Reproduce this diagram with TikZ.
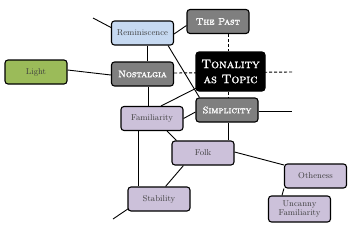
\documentclass[tikz,border=0pt]{standalone}
\usetikzlibrary{calc,backgrounds}
\definecolor{boxgray}{HTML}{7F7F7F}
\definecolor{boxpurple}{HTML}{CCC1DA}
\definecolor{boxblue}{HTML}{C6D9F1}
\definecolor{boxgreen}{HTML}{9BBB59}
\definecolor{txtdark}{HTML}{3F3F3F}
\newcommand{\heavytext}[1]{\special{pdf:literal direct 2 Tr 0.18 w}#1\special{pdf:literal direct 0 Tr}}
\tikzset{
  box/.style={draw=black, line width=1.1pt, rounded corners=3pt, minimum width=62pt, minimum height=24pt, inner sep=1pt, align=center, text=txtdark, font=\fontsize{8.5}{9.5}\selectfont},
  graybox/.style={box, fill=boxgray, text=white, font=\fontsize{9.5}{11}\selectfont\scshape},
  purplebox/.style={box, fill=boxpurple},
  bluebox/.style={box, fill=boxblue},
  greenbox/.style={box, fill=boxgreen},
  blackbox/.style={box, fill=black, text=white, minimum width=69pt, minimum height=39pt, font=\fontsize{12.5}{15}\selectfont\scshape},
  conn/.style={line width=0.9pt, draw=black},
  dconn/.style={conn, dash pattern=on 3pt off 2pt}
}
\begin{document}
\begin{tikzpicture}[x=1pt,y=-1pt]
\useasboundingbox (0,0) rectangle (350,225);
% nodes
\node[bluebox] (rem) at (142.5,33) {Reminiscence};
\node[graybox] (past) at (218,21.5) {\heavytext{The Past}};
\node[greenbox] (light) at (36,72) {Light};
\node[graybox] (nost) at (142.5,74) {\heavytext{Nostalgia}};
\node[blackbox] (ton) at (230.5,71.5) {\heavytext{Tonality}\\\heavytext{as Topic}};
\node[graybox] (simp) at (227,110) {\heavytext{Simplicity}};
\node[purplebox] (fam) at (152,118.5) {Familiarity};
\node[purplebox] (folk) at (203,153) {Folk};
\node[purplebox] (oth) at (315.5,176) {Otheness};
\node[purplebox, minimum height=26pt] (unc) at (299.5,209) {Uncanny\\[-1pt]Familiarity};
\node[purplebox] (stab) at (159,199) {Stability};
\coordinate (freeA) at (93,18);
\coordinate (freeB) at (292,72);
\coordinate (freeC) at (292,111);
\coordinate (freeD) at (113,219);
% connectors (behind nodes)
\begin{scope}[on background layer]
  \draw[conn] (freeA) -- ($(rem.west)+(1,-5)$);
  \draw[conn] ($(rem.south)+(5,0)$) -- ($(nost.north)+(5,0)$);
  \draw[conn] ($(rem.east)+(0,1)$) -- ($(past.west)+(0,4)$);
  \draw[conn] ($(rem.south east)+(-6,0)$) -- ($(simp.north west)+(4,0)$);
  \draw[conn] ($(light.east)+(0,-2)$) -- ($(nost.west)+(0,1)$);
  \draw[dconn] ($(nost.east)+(0,-1)$) -- (freeB);
  \draw[dconn] ($(past.south)+(10,0)$) -- ($(ton.north)+(-2.5,0)$);
  \draw[dconn] ($(ton.south)+(-2.5,0)$) -- ($(simp.north)+(1,0)$);
  \draw[conn] ($(nost.south)+(5.5,0)$) -- ($(fam.north)+(-4,0)$);
  \draw[conn] ($(fam.north)+(9,0)$) -- ($(ton.south west)+(2,-4)$);
  \draw[conn] ($(fam.east)+(0,0)$) -- ($(simp.west)+(0,2)$);
  \draw[conn] ($(simp.east)+(0,1)$) -- (freeC);
  \draw[conn] ($(simp.south)+(1,0)$) -- ($(folk.north)+(25,0)$);
  \draw[conn] ($(fam.south)+(15,0)$) -- ($(folk.north west)+(5,0)$);
  \draw[conn] ($(fam.south)+(-14,0)$) -- ($(stab.north)+(-21,0)$);
  \draw[conn] ($(folk.south west)+(12,0)$) -- ($(stab.north east)+(-25,0)$);
  \draw[conn] ($(folk.east)+(0,-1)$) -- ($(oth.west)+(0,-11)$);
  \draw[conn] ($(oth.south west)+(0,0)$) -- ($(unc.north west)+(14,0)$);
  \draw[conn] ($(stab.south west)+(1,-3)$) -- (freeD);
\end{scope}
\end{tikzpicture}
\end{document}
